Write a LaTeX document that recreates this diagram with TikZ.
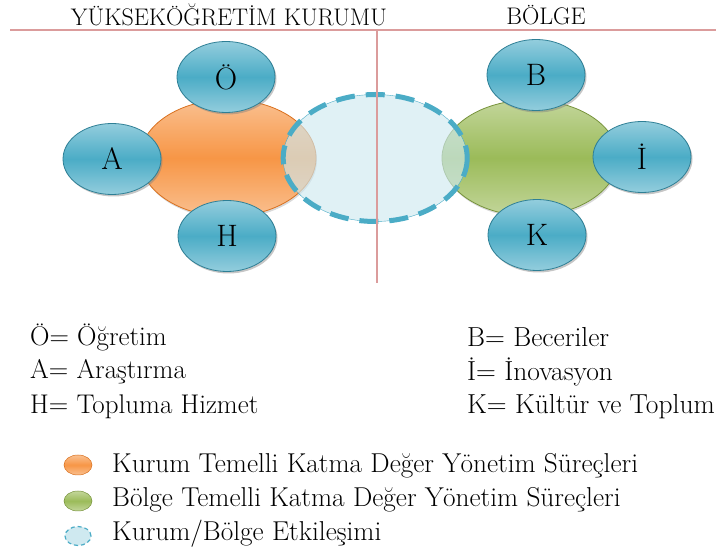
\documentclass[tikz,border=0pt]{standalone}
\usetikzlibrary{shapes.geometric,shadows}

\definecolor{blueLight}{HTML}{93CDDD}
\definecolor{blueMid}{HTML}{4BACC6}
\definecolor{blueDark}{HTML}{2E7F95}
\definecolor{orangeLight}{HTML}{FAC090}
\definecolor{orangeMid}{HTML}{F79646}
\definecolor{orangeDark}{HTML}{D9701E}
\definecolor{greenLight}{HTML}{C3D69B}
\definecolor{greenMid}{HTML}{9BBB59}
\definecolor{greenDark}{HTML}{77933C}
\definecolor{mixFill}{HTML}{CFE9F0}
\definecolor{ruleRed}{HTML}{DB9C9C}

\begin{document}
\begin{tikzpicture}[x=1pt, y=-1pt,
  every letter/.style={ellipse, draw=blueDark, line width=0.8pt,
    top color=blueLight, bottom color=blueLight, middle color=blueMid,
    minimum width=98pt, minimum height=71pt, inner sep=0pt,
    font=\fontsize{31}{31}\selectfont,
    drop shadow={shadow xshift=1.5pt, shadow yshift=-2pt, opacity=.45}},
  orange part/.style={ellipse, draw=orangeDark, line width=0.8pt,
    top color=orangeLight, bottom color=orangeLight, middle color=orangeMid, inner sep=0pt},
  green part/.style={ellipse, draw=greenDark, line width=0.8pt,
    top color=greenLight, bottom color=greenLight, middle color=greenMid, inner sep=0pt},
  mix part/.style={ellipse, draw=blueMid, fill=mixFill, fill opacity=.65, inner sep=0pt},
  rule/.style={draw=ruleRed, line width=1.5pt},
  legend text/.style={anchor=west, inner sep=0pt, font=\fontsize{27}{30}\selectfont}]

\useasboundingbox (0,0) rectangle (716,553);

% headings and rules
\node [font=\fontsize{24}{26}\selectfont] (head-kurum) at (229,15) {YÜKSEKÖĞRETİM KURUMU};
\node [font=\fontsize{24}{26}\selectfont] (head-bolge) at (546,15) {BÖLGE};

\coordinate (rule-w) at (10,30);
\coordinate (rule-e) at (716,30);
\coordinate (rule-n) at (377,30);
\coordinate (rule-s) at (377,283);

% process ellipses
\node [orange part, minimum width=176pt, minimum height=117pt,
  drop shadow={shadow xshift=1pt, shadow yshift=-2pt, opacity=.3}] (kurum) at (228,158) {};
\node [green part, minimum width=176pt, minimum height=116pt,
  drop shadow={shadow xshift=1pt, shadow yshift=-2pt, opacity=.3}] (bolge) at (530,158) {};
\node [mix part, minimum width=184pt, minimum height=127pt] (etkilesim) at (375,158) {};
\draw [blueMid, line width=5pt, dash pattern=on 19pt off 11pt]
  (etkilesim.east) arc[start angle=0, end angle=360, x radius=92, y radius=63.5];

\draw [rule] (rule-w) -- (rule-e);
\draw [rule] (rule-n) -- (rule-s);

% letter circles
\foreach \n/\x/\y/\l in {ogretim/226/77/Ö, arastirma/112/159/A, hizmet/227/236/H,
                        beceri/536/75/B, inovasyon/642/157/İ, kultur/537/235/K}
  \node [every letter] (\n) at (\x,\y) {\l};

% key of letters
\foreach \t [count=\i] in {Ö= Öğretim, A= Araştırma, H= Topluma Hizmet}
  \node [legend text] (key-l\i) at (30,302+\i*35) {\t};
\foreach \t [count=\i] in {B= Beceriler, İ= İnovasyon, K= Kültür ve Toplum}
  \node [legend text, font=\fontsize{27.5}{30}\selectfont] (key-r\i) at (467,302+\i*35) {\t};

% key of colours
\node [orange part, minimum width=28pt, minimum height=20pt, line width=0.5pt] (dot-kurum) at (78,465) {};
\node [green part, minimum width=28pt, minimum height=20pt, line width=0.5pt] (dot-bolge) at (78,501) {};
\node [ellipse, draw=blueMid, fill=mixFill, line width=1.2pt, dash pattern=on 4pt off 3pt,
  minimum width=26pt, minimum height=19pt, inner sep=0pt] (dot-mix) at (78,536) {};

\node [legend text, font=\fontsize{27.3}{30}\selectfont] (key-kurum) at (112,466) {Kurum Temelli Katma Değer Yönetim Süreçleri};
\node [legend text, font=\fontsize{27.3}{30}\selectfont] (key-bolge) at (112,500) {Bölge Temelli Katma Değer Yönetim Süreçleri};
\node [legend text, font=\fontsize{27.3}{30}\selectfont] (key-mix) at (112,534) {Kurum/Bölge Etkileşimi};

\end{tikzpicture}
\end{document}
